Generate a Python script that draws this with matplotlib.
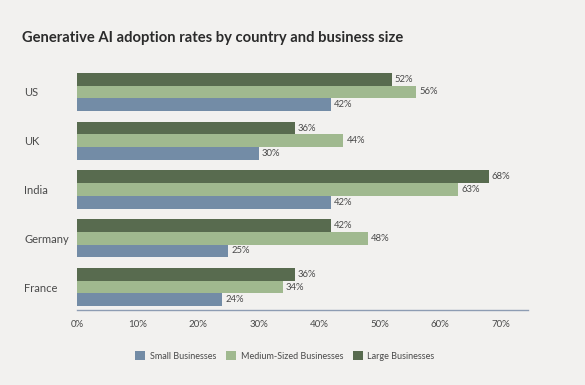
import matplotlib
matplotlib.use("Agg")
import matplotlib.pyplot as plt
import numpy as np
from matplotlib.patches import Patch

countries = ["US", "UK", "India", "Germany", "France"]
small = [42, 30, 42, 25, 24]
medium = [56, 44, 63, 48, 34]
large = [52, 36, 68, 42, 36]
series_names = ["Small Businesses", "Medium-Sized Businesses", "Large Businesses"]
xticks = [0, 10, 20, 30, 40, 50, 60, 70]

c_small = "#738ca6"
c_medium = "#a0b98f"
c_large = "#586b4f"
bg = "#f2f1ef"
txt = "#4a4a4a"

plt.rcParams['font.family'] = ['Lato', 'DejaVu Sans']

W, H = 585, 385
fig = plt.figure(figsize=(W/100, H/100), dpi=100, facecolor=bg)
ax = fig.add_axes([77/W, 1-310/H, (528-77)/W, (310-68)/H])
ax.set_facecolor(bg)

n = len(countries)
ypos = np.arange(n)[::-1]  # US at top
h = 0.26
for vals, col, off in [(large, c_large, h), (medium, c_medium, 0), (small, c_small, -h)]:
    bars = ax.barh(ypos + off, vals, height=h, color=col, edgecolor='none')
    for b, v in zip(bars, vals):
        ax.text(v + 0.5, b.get_y() + b.get_height()/2, f"{v}%", va='center', ha='left',
                fontsize=6.8, color=txt)

ax.set_xlim(0, 74.5)
ax.set_ylim(-0.47, n - 1 + 0.49)
ax.set_xticks(xticks)
ax.set_xticklabels([f"{t}%" for t in xticks], fontsize=7, color=txt)
ax.set_yticks(ypos)
ax.set_yticklabels(countries, fontsize=8, color=txt)
for lab in ax.get_yticklabels():
    lab.set_ha('left')
ax.tick_params(axis='y', length=0, pad=38)
ax.tick_params(axis='x', length=0, pad=7)
for s in ['top', 'right', 'left']:
    ax.spines[s].set_visible(False)
ax.spines['bottom'].set_color('#8e9db3')
ax.spines['bottom'].set_linewidth(1.0)

fig.text(22/W, 1-38/H, "Generative AI adoption rates by country and business size",
         fontsize=10.6, fontweight='bold', color='#2b2b2b', va='center', ha='left')

handles = [Patch(facecolor=c, edgecolor='none') for c in [c_small, c_medium, c_large]]
fig.legend(handles, series_names, loc='center', bbox_to_anchor=(285/W, 1-356/H), ncol=3,
           frameon=False, fontsize=6.5, handlelength=1.1, handleheight=1.1,
           handletextpad=0.5, columnspacing=1.1, labelcolor=txt)

fig.savefig("out.png", dpi=100, facecolor=bg)
